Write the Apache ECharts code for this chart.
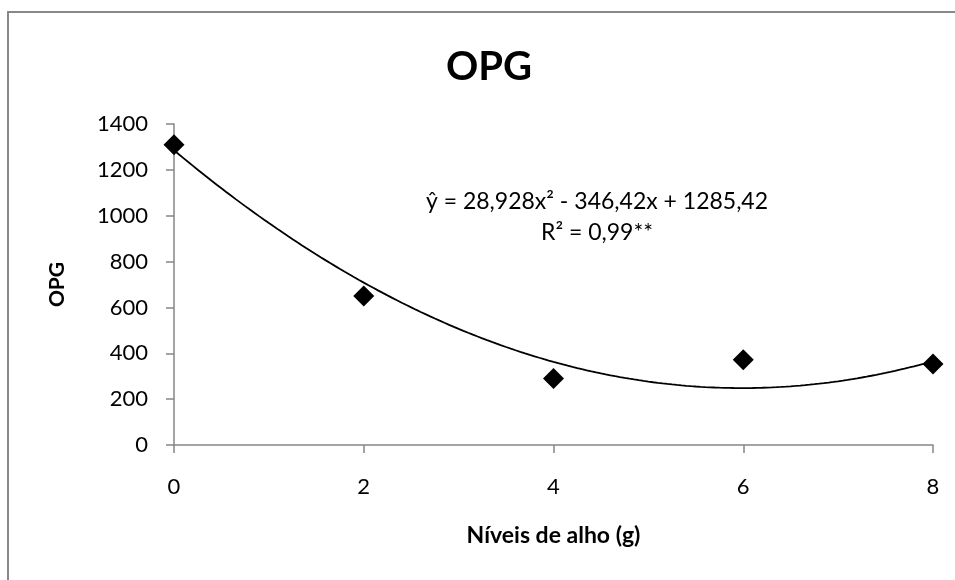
<!DOCTYPE html>
<html>
<head>
<meta charset="utf-8">
<style>
  html, body { margin: 0; padding: 0; background: #fff; }
  #chart { width: 955px; height: 580px; }
</style>
<script src="https://cdn.jsdelivr.net/npm/echarts@6/dist/echarts.min.js"></script>
</head>
<body>
<div id="chart"></div>
<script>
// Garlic levels (g) and measured OPG
const levels = [0, 2, 4, 6, 8];
const opg = [1310, 650, 290, 372, 353];

// Quadratic fit coefficients: c2*x^2 + c1*x + c0
const fitCoef = [28.928, -346.42, 1285.42];
const fitLabel = ['ŷ = 28,928x² - 346,42x + 1285,42', 'R² = 0,99**'];

const yTicks = [0, 200, 400, 600, 800, 1000, 1200, 1400];
const xTicks = [0, 2, 4, 6, 8];

const FONT = 'Lato, "Open Sans", sans-serif';

// Sample the fitted curve across the axis range
const fitCurve = [];
for (let i = 0; i <= 160; i++) {
  const x = levels[0] + (levels[levels.length - 1] - levels[0]) * i / 160;
  fitCurve.push([x, fitCoef[0] * x * x + fitCoef[1] * x + fitCoef[2]]);
}

const chart = echarts.init(document.getElementById('chart'), null, { renderer: 'canvas' });

const axisColor = '#868686';

chart.setOption({
  animation: false,
  backgroundColor: '#ffffff',
  title: {
    text: 'OPG',
    left: 441,
    top: 42,
    textStyle: { fontFamily: FONT, fontWeight: 'bold', fontSize: 40, color: '#000' }
  },
  grid: { left: 174, right: 22, top: 124, bottom: 135 },
  xAxis: {
    type: 'value',
    min: xTicks[0],
    max: xTicks[xTicks.length - 1],
    interval: 2,
    name: 'Níveis de alho (g)',
    nameLocation: 'middle',
    nameGap: 79,
    nameTextStyle: { fontFamily: FONT, fontWeight: 'bold', fontSize: 23, color: '#000' },
    axisLine: { show: true, lineStyle: { color: axisColor, width: 1.5 } },
    axisTick: { show: true, length: 8, inside: false, lineStyle: { color: axisColor, width: 1.5 } },
    axisLabel: { margin: 31, fontFamily: FONT, fontSize: 22, color: '#000' },
    splitLine: { show: false }
  },
  yAxis: {
    type: 'value',
    min: yTicks[0],
    max: yTicks[yTicks.length - 1],
    interval: 200,
    name: 'OPG',
    nameLocation: 'middle',
    nameGap: 106,
    nameRotate: 90,
    nameTextStyle: { fontFamily: FONT, fontWeight: 'bold', fontSize: 21, color: '#000' },
    axisLine: { show: true, lineStyle: { color: axisColor, width: 1.5 } },
    axisTick: { show: true, length: 8, lineStyle: { color: axisColor, width: 1.5 } },
    axisLabel: {
      margin: 26, fontFamily: FONT, fontSize: 22, color: '#000',
      formatter: (v) => String(v)
    },
    splitLine: { show: false }
  },
  series: [
    {
      type: 'line',
      data: fitCurve,
      showSymbol: false,
      smooth: false,
      lineStyle: { color: '#000', width: 1.8 },
      z: 2,
      silent: true
    },
    {
      type: 'scatter',
      data: levels.map((x, i) => [x, opg[i]]),
      symbol: 'diamond',
      symbolSize: 21,
      itemStyle: { color: '#000', opacity: 1 },
      z: 3
    }
  ],
  graphic: [
    {
      type: 'rect',
      shape: { x: 8, y: 12, width: 1000, height: 700 },
      style: { fill: 'none', stroke: '#888888', lineWidth: 2 },
      silent: true,
      z: -1
    },
    {
      type: 'text',
      x: 597, y: 202,
      style: {
        text: fitLabel[0],
        fontFamily: FONT, fontSize: 23, fill: '#000',
        align: 'center', verticalAlign: 'middle'
      }
    },
    {
      type: 'text',
      x: 597, y: 233,
      style: {
        text: fitLabel[1],
        fontFamily: FONT, fontSize: 23, fill: '#000',
        align: 'center', verticalAlign: 'middle'
      }
    }
  ]
});
</script>
</body>
</html>
